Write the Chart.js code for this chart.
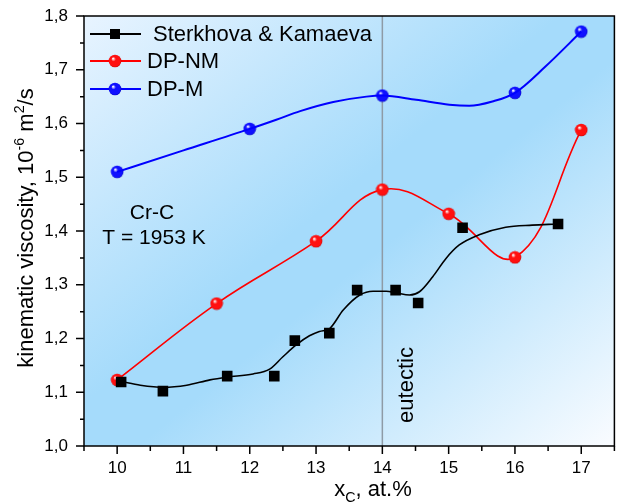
<!DOCTYPE html>
<html>
<head>
<meta charset="utf-8">
<script src="https://cdn.jsdelivr.net/npm/chart.js@4"></script>
<style>
  body { margin: 0; background: #fff; }
  canvas { display: block; }
</style>
</head>
<body>
<canvas id="chart" width="623" height="502"></canvas>
<script>
'use strict';

// Sterkhova & Kamaeva experimental points
var skX = [10.06, 10.69, 11.66, 12.37, 12.68, 13.2, 13.62, 14.2, 14.54, 15.21, 16.65];
var skY = [1.119, 1.102, 1.130, 1.130, 1.196, 1.210, 1.290, 1.290, 1.266, 1.406, 1.413];

var fitX = [10.06, 10.35, 10.70, 11.05, 11.40, 11.65, 12.05, 12.30, 12.50, 12.70, 12.90, 13.05, 13.21, 13.41, 13.66, 13.86, 14.06, 14.21, 14.41, 14.56, 14.76, 14.96, 15.16, 15.46, 15.86, 16.26, 16.63];
var fitY = [1.120, 1.113, 1.109, 1.113, 1.123, 1.128, 1.134, 1.143, 1.166, 1.188, 1.205, 1.213, 1.219, 1.253, 1.281, 1.288, 1.288, 1.285, 1.281, 1.287, 1.315, 1.349, 1.374, 1.393, 1.407, 1.411, 1.413];

// DP-NM
var nmX = [10, 11.5, 13, 14, 15, 16, 17];
var nmY = [1.123, 1.265, 1.381, 1.477, 1.432, 1.351, 1.588];

// DP-M points and its curve (curve)
var mX = [10, 12, 14, 16, 17];
var mY = [1.510, 1.590, 1.652, 1.657, 1.771];
var mCurveX = [10, 11, 12, 12.4, 12.76, 13.26, 13.76, 14, 14.51, 15.01, 15.31, 15.66, 16, 16.46, 17];
var mCurveY = [1.510, 1.550, 1.590, 1.607, 1.623, 1.640, 1.650, 1.652, 1.644, 1.635, 1.633, 1.641, 1.657, 1.706, 1.771];

var xTicks = [10, 11, 12, 13, 14, 15, 16, 17];
var xMin = 9.5, xMax = 17.5;
var yMin = 1.0, yMax = 1.8;
var eutecticX = 14;

var FONT = "'Liberation Sans', Arial, sans-serif";

function toPoints(xs, ys) {
  var pts = [];
  for (var i = 0; i < xs.length; i++) {
    pts.push({x: xs[i], y: ys[i]});
  }
  return pts;
}

// little shaded ball used as a marker
function makeBall(main, dark) {
  var c = document.createElement('canvas');
  c.width = 14;
  c.height = 14;
  var g = c.getContext('2d');
  var grad = g.createRadialGradient(5, 4.5, 0.3, 7, 7, 7);
  grad.addColorStop(0, '#ffffff');
  grad.addColorStop(0.3, main);
  grad.addColorStop(0.8, main);
  grad.addColorStop(1, dark);
  g.fillStyle = grad;
  g.beginPath();
  g.arc(7, 7, 6.3, 0, Math.PI * 2);
  g.fill();
  return c;
}

var redBall = makeBall('#ff1010', '#b00000');
var blueBall = makeBall('#1010ff', '#0000a0');

function fmt(v) {
  return v.toFixed(1).replace('.', ',');
}

// text with super/subscript pieces: [[text, mode]] mode 0 normal, 1 sup, -1 sub
function richWidth(ctx, parts, size) {
  var w = 0;
  for (var i = 0; i < parts.length; i++) {
    ctx.font = (parts[i][1] ? size * 0.65 : size) + 'px ' + FONT;
    w += ctx.measureText(parts[i][0]).width;
  }
  return w;
}

function richDraw(ctx, parts, x, y, size) {
  ctx.textBaseline = 'alphabetic';
  ctx.textAlign = 'left';
  for (var i = 0; i < parts.length; i++) {
    var mode = parts[i][1];
    ctx.font = (mode ? size * 0.65 : size) + 'px ' + FONT;
    var dy = mode === 1 ? -size * 0.4 : (mode === -1 ? size * 0.25 : 0);
    ctx.fillText(parts[i][0], x, y + dy);
    x += ctx.measureText(parts[i][0]).width;
  }
}

var decorPlugin = {
  id: 'decor',
  beforeDraw: function(chart) {
    var a = chart.chartArea;
    var ctx = chart.ctx;
    var w = a.right - a.left, h = a.bottom - a.top;
    var cx = (a.left + a.right) / 2, cy = (a.top + a.bottom) / 2;
    var k = w * h / (w * w + h * h);
    var grad = ctx.createLinearGradient(cx - h * k, cy - w * k, cx + h * k, cy + w * k);
    grad.addColorStop(0, '#e8f4ff');
    grad.addColorStop(0.45, '#a5dbfb');
    grad.addColorStop(0.55, '#a5dbfb');
    grad.addColorStop(1, '#fafcff');
    ctx.save();
    ctx.fillStyle = grad;
    ctx.fillRect(a.left, a.top, w, h);
    ctx.restore();
  },
  beforeDatasetsDraw: function(chart) {
    var a = chart.chartArea;
    var ctx = chart.ctx;
    var px = chart.scales.x.getPixelForValue(eutecticX);
    ctx.save();
    ctx.strokeStyle = '#8e9ba6';
    ctx.lineWidth = 1.5;
    ctx.beginPath();
    ctx.moveTo(px, a.top);
    ctx.lineTo(px, a.bottom);
    ctx.stroke();
    // label next to the line
    ctx.translate(px + 25, 385);
    ctx.rotate(-Math.PI / 2);
    ctx.fillStyle = '#000';
    ctx.font = '22px ' + FONT;
    ctx.textAlign = 'center';
    ctx.textBaseline = 'middle';
    ctx.fillText('eutectic', 0, 0);
    ctx.restore();
  },
  afterDraw: function(chart) {
    var a = chart.chartArea;
    var ctx = chart.ctx;
    var xs = chart.scales.x, ys = chart.scales.y;
    ctx.save();
    ctx.strokeStyle = '#000';
    ctx.lineWidth = 1.5;

    // frame
    ctx.strokeRect(a.left, a.top, a.right - a.left, a.bottom - a.top);

    // ticks, major and minor, pointing out
    ctx.beginPath();
    var v, p, len;
    for (v = xMin; v <= xMax + 1e-9; v += 0.5) {
      p = xs.getPixelForValue(v);
      len = Math.abs(v - Math.round(v)) < 1e-6 ? 8 : 5;
      ctx.moveTo(p, a.bottom);
      ctx.lineTo(p, a.bottom + len);
    }
    for (v = yMin; v <= yMax + 1e-9; v += 0.05) {
      p = ys.getPixelForValue(v);
      len = Math.abs(v * 10 - Math.round(v * 10)) < 1e-6 ? 8 : 4;
      ctx.moveTo(a.left, p);
      ctx.lineTo(a.left - len, p);
    }
    ctx.stroke();

    ctx.fillStyle = '#000';

    // y title
    var yParts = [['kinematic viscosity, 10', 0], ['-6', 1], [' m', 0], ['2', 1], ['/s', 0]];
    var tw = richWidth(ctx, yParts, 22);
    ctx.save();
    ctx.translate(33, 228);
    ctx.rotate(-Math.PI / 2);
    richDraw(ctx, yParts, -tw / 2, 0, 22);
    ctx.restore();

    // x title
    var xParts = [['x', 0], ['C', -1], [', at.%', 0]];
    tw = richWidth(ctx, xParts, 22);
    richDraw(ctx, xParts, 373 - tw / 2, 496, 22);

    // annotation
    ctx.font = '21px ' + FONT;
    ctx.textAlign = 'center';
    ctx.textBaseline = 'middle';
    ctx.fillText('Cr-C', 152, 213);
    ctx.fillText('T = 1953 K', 154, 238);

    // legend
    var rows = [
      {label: 'Sterkhova & Kamaeva', color: '#000', mark: 'rect', y: 34, tx: 153},
      {label: 'DP-NM', color: '#ff0000', mark: redBall, y: 61, tx: 147},
      {label: 'DP-M', color: '#0000ff', mark: blueBall, y: 89, tx: 147}
    ];
    ctx.font = '22px ' + FONT;
    ctx.textAlign = 'left';
    for (var i = 0; i < rows.length; i++) {
      var r = rows[i];
      ctx.strokeStyle = r.color;
      ctx.lineWidth = 1.8;
      ctx.beginPath();
      ctx.moveTo(90, r.y);
      ctx.lineTo(141, r.y);
      ctx.stroke();
      if (r.mark === 'rect') {
        ctx.fillStyle = '#000';
        ctx.fillRect(115 - 5, r.y - 5, 10, 10);
      } else {
        ctx.drawImage(r.mark, 115 - 7, r.y - 7);
      }
      ctx.fillStyle = '#000';
      ctx.fillText(r.label, r.tx, r.y + 1);
    }
    ctx.restore();
  }
};

var ctx = document.getElementById('chart').getContext('2d');
new Chart(ctx, {
  type: 'line',
  data: {
    datasets: [
      {
        label: 'fit',
        data: toPoints(fitX, fitY),
        borderColor: '#000',
        borderWidth: 1.6,
        pointRadius: 0,
        cubicInterpolationMode: 'monotone',
        fill: false
      },
      {
        label: 'Sterkhova & Kamaeva',
        data: toPoints(skX, skY),
        showLine: false,
        pointStyle: 'rect',
        pointRadius: 7.5,
        backgroundColor: '#000',
        borderColor: '#000',
        borderWidth: 0
      },
      {
        label: 'DP-NM',
        data: toPoints(nmX, nmY),
        borderColor: '#ff0000',
        borderWidth: 1.6,
        tension: 0.4,
        pointStyle: redBall,
        pointRadius: 7,
        fill: false
      },
      {
        label: 'DP-M curve',
        data: toPoints(mCurveX, mCurveY),
        borderColor: '#0000ff',
        borderWidth: 2,
        pointRadius: 0,
        cubicInterpolationMode: 'monotone',
        fill: false
      },
      {
        label: 'DP-M',
        data: toPoints(mX, mY),
        showLine: false,
        pointStyle: blueBall,
        pointRadius: 7
      }
    ]
  },
  options: {
    responsive: false,
    animation: false,
    devicePixelRatio: 1,
    layout: {padding: {left: 0, right: 7, top: 16, bottom: 0}},
    plugins: {
      legend: {display: false},
      tooltip: {enabled: false}
    },
    scales: {
      x: {
        type: 'linear',
        min: xMin,
        max: xMax,
        grid: {display: false, drawTicks: false},
        border: {display: false},
        afterBuildTicks: function(scale) {
          scale.ticks = xTicks.map(function(t) { return {value: t}; });
        },
        ticks: {
          padding: 12,
          color: '#000',
          font: {family: FONT, size: 17},
          maxRotation: 0,
          autoSkip: false,
          callback: function(v) { return String(v); }
        },
        afterFit: function(scale) {
          scale.height = 56;
          scale.paddingLeft = 0;
          scale.paddingRight = 0;
        }
      },
      y: {
        min: yMin,
        max: yMax,
        grid: {display: false, drawTicks: false},
        border: {display: false},
        ticks: {
          stepSize: 0.1,
          padding: 16,
          color: '#000',
          font: {family: FONT, size: 17},
          callback: function(v) { return fmt(v); }
        },
        afterFit: function(scale) {
          scale.width = 84;
          scale.paddingTop = 0;
          scale.paddingBottom = 0;
        }
      }
    }
  },
  plugins: [decorPlugin]
});
</script>
</body>
</html>
